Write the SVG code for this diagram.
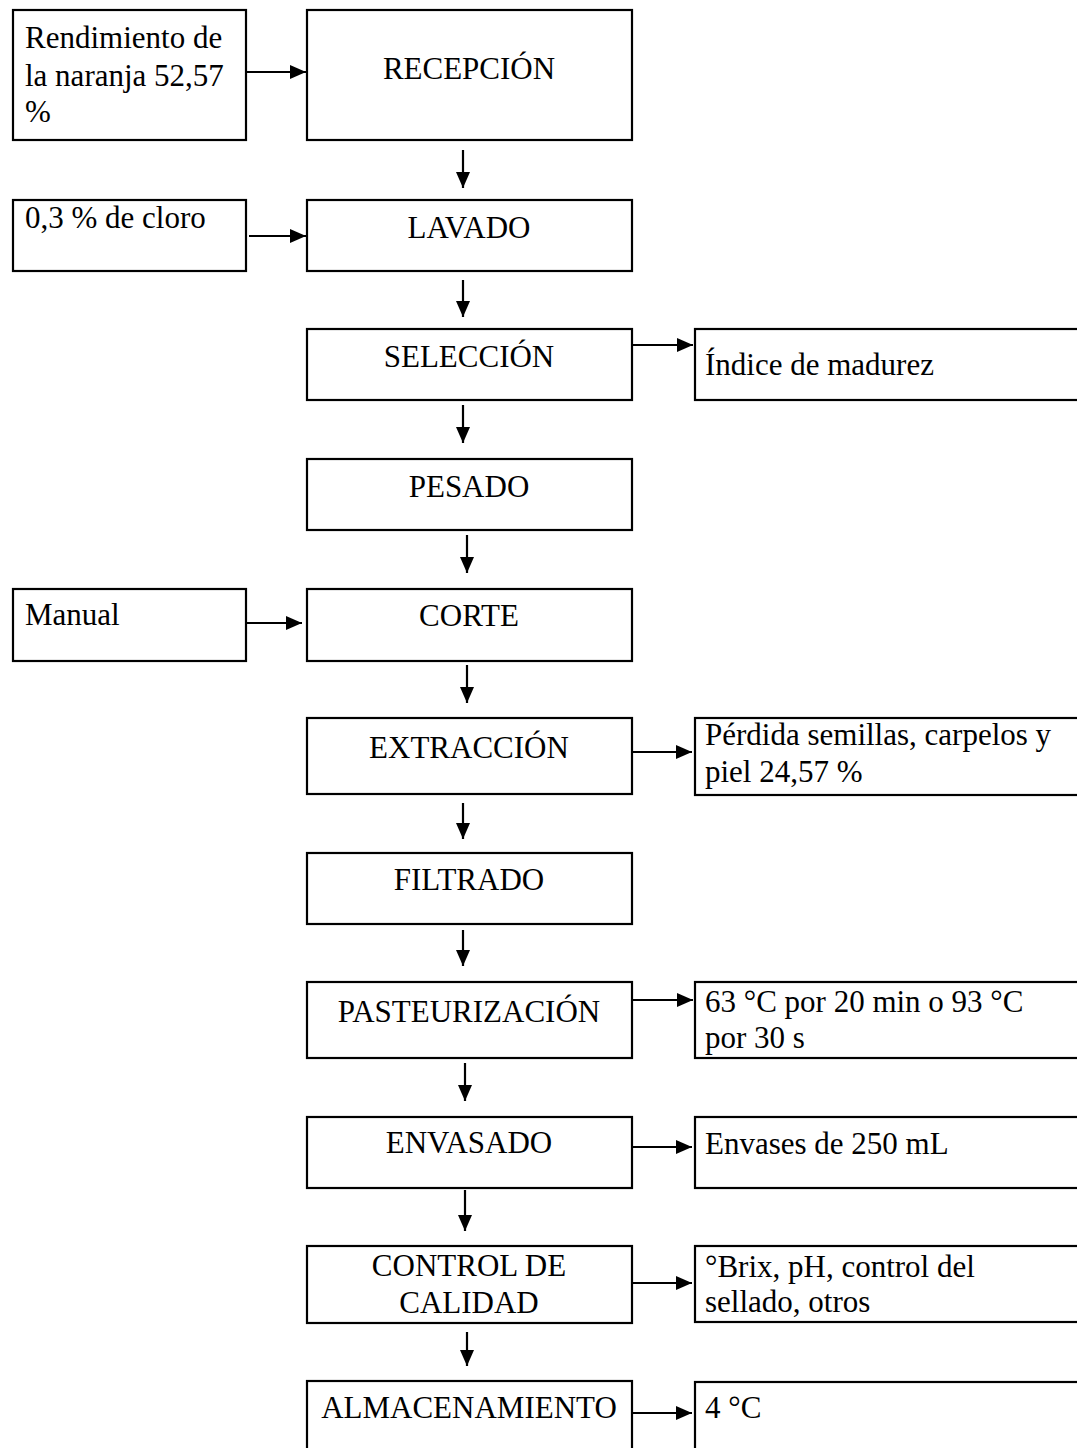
<svg xmlns="http://www.w3.org/2000/svg" width="1077" height="1448" viewBox="0 0 1077 1448">
<style>
.box{fill:#fff;stroke:#000;stroke-width:2.2}
.t{font-family:"Liberation Serif","Times New Roman",serif;font-size:31px;fill:#000}
.c{text-anchor:middle}
.ln{stroke:#000;stroke-width:2.2;fill:none}
</style>
<defs>
<marker id="ah" viewBox="0 0 16 14" refX="16" refY="7" markerWidth="16" markerHeight="14" markerUnits="userSpaceOnUse" orient="auto">
<path d="M0,0 L16,7 L0,14 z" fill="#000"/>
</marker>
</defs>
<rect width="1077" height="1448" fill="#fff"/>
<g id="connectors">
<line class="ln" x1="247" y1="72" x2="306" y2="72" marker-end="url(#ah)"/>
<line class="ln" x1="249" y1="236" x2="306" y2="236" marker-end="url(#ah)"/>
<line class="ln" x1="247" y1="623" x2="302" y2="623" marker-end="url(#ah)"/>
<line class="ln" x1="632" y1="345" x2="693" y2="345" marker-end="url(#ah)"/>
<line class="ln" x1="632" y1="752" x2="692" y2="752" marker-end="url(#ah)"/>
<line class="ln" x1="632" y1="1000" x2="693" y2="1000" marker-end="url(#ah)"/>
<line class="ln" x1="632" y1="1147" x2="692" y2="1147" marker-end="url(#ah)"/>
<line class="ln" x1="632" y1="1283" x2="692" y2="1283" marker-end="url(#ah)"/>
<line class="ln" x1="632" y1="1413" x2="692" y2="1413" marker-end="url(#ah)"/>
<line class="ln" x1="463" y1="150" x2="463" y2="188" marker-end="url(#ah)"/>
<line class="ln" x1="463" y1="280" x2="463" y2="317" marker-end="url(#ah)"/>
<line class="ln" x1="463" y1="405" x2="463" y2="443" marker-end="url(#ah)"/>
<line class="ln" x1="467" y1="535" x2="467" y2="573" marker-end="url(#ah)"/>
<line class="ln" x1="467" y1="665" x2="467" y2="703" marker-end="url(#ah)"/>
<line class="ln" x1="463" y1="803" x2="463" y2="839" marker-end="url(#ah)"/>
<line class="ln" x1="463" y1="930" x2="463" y2="966" marker-end="url(#ah)"/>
<line class="ln" x1="465" y1="1063" x2="465" y2="1101" marker-end="url(#ah)"/>
<line class="ln" x1="465" y1="1190" x2="465" y2="1231" marker-end="url(#ah)"/>
<line class="ln" x1="467" y1="1332" x2="467" y2="1366" marker-end="url(#ah)"/>
</g>
<g id="rendimiento"><rect class="box" x="13" y="10" width="233" height="130"/>
<text class="t" x="25" y="48">Rendimiento de</text><text class="t" x="25" y="86">la naranja 52,57</text><text class="t" x="25" y="122">%</text></g>
<g id="cloro"><rect class="box" x="13" y="200" width="233" height="71"/><text class="t" x="25" y="228">0,3 % de cloro</text></g>
<g id="manual"><rect class="box" x="13" y="589" width="233" height="72"/><text class="t" x="25" y="625">Manual</text></g>
<g id="recepcion"><rect class="box" x="307" y="10" width="325" height="130"/><text class="t c" x="469" y="79">RECEPCIÓN</text></g>
<g id="lavado"><rect class="box" x="307" y="200" width="325" height="71"/><text class="t c" x="469" y="238">LAVADO</text></g>
<g id="seleccion"><rect class="box" x="307" y="329" width="325" height="71"/><text class="t c" x="469" y="367">SELECCIÓN</text></g>
<g id="pesado"><rect class="box" x="307" y="459" width="325" height="71"/><text class="t c" x="469" y="497">PESADO</text></g>
<g id="corte"><rect class="box" x="307" y="589" width="325" height="72"/><text class="t c" x="469" y="626">CORTE</text></g>
<g id="extraccion"><rect class="box" x="307" y="718" width="325" height="76"/><text class="t c" x="469" y="758">EXTRACCIÓN</text></g>
<g id="filtrado"><rect class="box" x="307" y="853" width="325" height="71"/><text class="t c" x="469" y="890">FILTRADO</text></g>
<g id="pasteurizacion"><rect class="box" x="307" y="982" width="325" height="76"/><text class="t c" x="469" y="1022">PASTEURIZACIÓN</text></g>
<g id="envasado"><rect class="box" x="307" y="1117" width="325" height="71"/><text class="t c" x="469" y="1153">ENVASADO</text></g>
<g id="control"><rect class="box" x="307" y="1246" width="325" height="77"/><text class="t c" x="469" y="1276">CONTROL DE</text><text class="t c" x="469" y="1313">CALIDAD</text></g>
<g id="almacenamiento"><rect class="box" x="307" y="1381" width="325" height="80"/><text class="t c" x="469" y="1418">ALMACENAMIENTO</text></g>
<g id="indice"><rect class="box" x="695" y="329" width="400" height="71"/><text class="t" x="705" y="375">Índice de madurez</text></g>
<g id="perdida"><rect class="box" x="695" y="718" width="400" height="77"/><text class="t" x="705" y="745">Pérdida semillas, carpelos y</text><text class="t" x="705" y="782">piel 24,57 %</text></g>
<g id="temperatura"><rect class="box" x="695" y="982" width="400" height="76"/><text class="t" x="705" y="1012">63 °C por 20 min o 93 °C</text><text class="t" x="705" y="1048">por 30 s</text></g>
<g id="envases"><rect class="box" x="695" y="1117" width="400" height="71"/><text class="t" x="705" y="1154">Envases de 250 mL</text></g>
<g id="brix"><rect class="box" x="695" y="1246" width="400" height="76"/><text class="t" x="705" y="1277">°Brix, pH, control del</text><text class="t" x="705" y="1312">sellado, otros</text></g>
<g id="cuatro"><rect class="box" x="695" y="1382" width="400" height="80"/><text class="t" x="705" y="1418">4 °C</text></g>
</svg>
